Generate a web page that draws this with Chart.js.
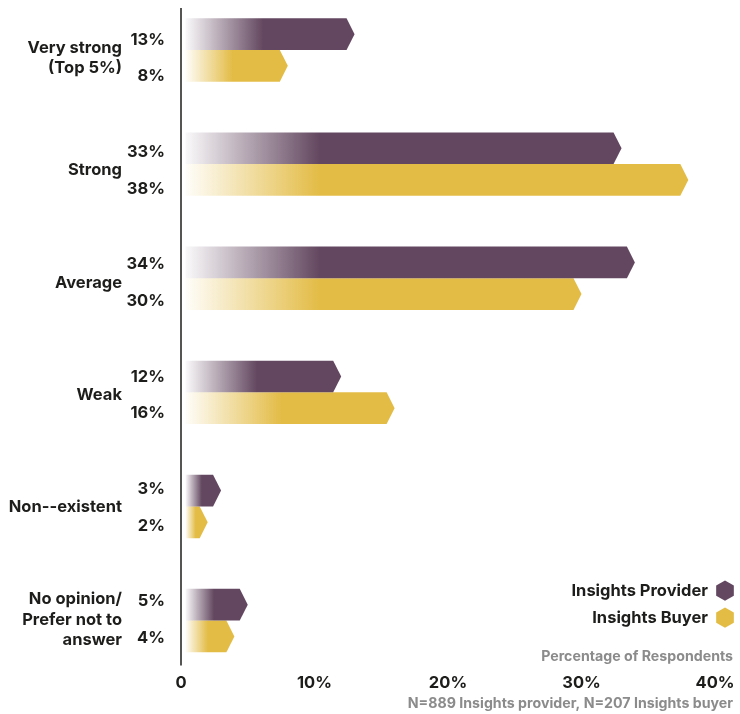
<!DOCTYPE html>
<html>
<head>
<meta charset="utf-8">
<script src="https://cdn.jsdelivr.net/npm/chart.js@4.4.1/dist/chart.umd.min.js"></script>
<style>
    html, body { margin: 0; padding: 0; background: #fff; }
    #wrap { width: 740px; height: 714px; }
</style>
</head>
<body>
<div id="wrap"><canvas id="strengthChart"></canvas></div>
<script>
const categories = [
    ['Very strong', '(Top 5%)'],
    ['Strong'],
    ['Average'],
    ['Weak'],
    ['Non--existent'],
    ['No opinion/', 'Prefer not to', 'answer']
];
const providerValues = [13, 33, 34, 12, 3, 5];
const buyerValues = [8, 38, 30, 16, 2, 4];
const xTicks = [0, 10, 20, 30, 40];
const seriesNames = ['Insights Provider', 'Insights Buyer'];
const axisTitle = 'Percentage of Respondents';
const footnote = 'N=889 Insights provider, N=207 Insights buyer';

const seriesColors = ['#634760', '#e3bc46'];
const FONT = 'Inter, "Noto Sans", sans-serif';
const INK = '#1d1d1b';
const GREY = '#8b8b8b';

function rgba(hex, a) {
    const n = parseInt(hex.slice(1), 16);
    return `rgba(${n >> 16}, ${(n >> 8) & 255}, ${n & 255}, ${a})`;
}

function hexagon(ctx, cx, cy, r) {
    ctx.beginPath();
    for (let i = 0; i < 6; i++) {
        const a = Math.PI / 3 * i - Math.PI / 2;
        const px = cx + r * Math.cos(a);
        const py = cy + r * Math.sin(a);
        if (i === 0) ctx.moveTo(px, py); else ctx.lineTo(px, py);
    }
    ctx.closePath();
}

// bars are drawn as arrows that fade in from the axis
const arrowBars = {
    id: 'arrowBars',
    beforeDatasetDraw(chart, args) {
        const ctx = chart.ctx;
        const color = seriesColors[args.index];
        ctx.save();
        args.meta.data.forEach(bar => {
            const { x, y, base, height } = bar.getProps(['x', 'y', 'base', 'height'], true);
            const left = base + 4;
            const h = height / 2;
            const tip = Math.min(8, (x - left) / 2);
            const fade = Math.min((x - left) * 0.46, 134);
            const grad = ctx.createLinearGradient(left, 0, left + fade, 0);
            grad.addColorStop(0, rgba(color, 0.03));
            grad.addColorStop(1, rgba(color, 1));
            ctx.fillStyle = grad;
            ctx.beginPath();
            ctx.moveTo(left, y - h);
            ctx.lineTo(x - tip, y - h);
            ctx.lineTo(x, y);
            ctx.lineTo(x - tip, y + h);
            ctx.lineTo(left, y + h);
            ctx.closePath();
            ctx.fill();
        });
        ctx.restore();
        return false;
    }
};

// axis line, row labels, value labels, legend and notes
const annotations = {
    id: 'annotations',
    afterDraw(chart) {
        const ctx = chart.ctx;
        const area = chart.chartArea;
        const xs = chart.scales.x;
        const ys = chart.scales.y;
        const x0 = xs.getPixelForValue(0);

        ctx.save();
        ctx.strokeStyle = INK;
        ctx.lineWidth = 1.5;
        ctx.beginPath();
        ctx.moveTo(x0, area.top - 42);
        ctx.lineTo(x0, area.bottom + 45);
        ctx.stroke();

        ctx.fillStyle = INK;
        ctx.textAlign = 'right';
        ctx.textBaseline = 'middle';
        ctx.font = `700 16.5px ${FONT}`;

        categories.forEach((lines, i) => {
            // text rows run on a slightly tighter pitch than the bars
            const cy = ys.getPixelForValue(i) + 8 - 1.8 * i;
            const lh = 20.5;
            lines.forEach((line, k) => {
                ctx.fillText(line, x0 - 59, cy + (k - (lines.length - 1) / 2) * lh);
            });
        });

        [providerValues, buyerValues].forEach((vals, d) => {
            vals.forEach((v, i) => {
                const cy = ys.getPixelForValue(i) + 8 - 1.8 * i;
                const ty = cy + (d === 0 ? -18.3 : 18.3);
                ctx.fillText(v + '%', x0 - 16, ty);
            });
        });

        seriesNames.forEach((name, d) => {
            const ly = area.bottom - 30 + d * 27;
            ctx.fillStyle = INK;
            ctx.fillText(name, area.right - 7, ly);
            ctx.fillStyle = seriesColors[d];
            hexagon(ctx, area.right + 10, ly, 10.2);
            ctx.fill();
        });

        ctx.fillStyle = GREY;
        ctx.font = `700 14.2px ${FONT}`;
        ctx.fillText(axisTitle, chart.width - 7, area.bottom + 36);
        ctx.fillText(footnote, chart.width - 7, area.bottom + 83);
        ctx.restore();
    }
};

new Chart(document.getElementById('strengthChart'), {
    type: 'bar',
    data: {
        labels: categories,
        datasets: [
            { label: seriesNames[0], data: providerValues, backgroundColor: seriesColors[0] },
            { label: seriesNames[1], data: buyerValues, backgroundColor: seriesColors[1] }
        ]
    },
    options: {
        indexAxis: 'y',
        responsive: true,
        maintainAspectRatio: false,
        animation: false,
        datasets: { bar: { categoryPercentage: 0.556, barPercentage: 1 } },
        layout: { padding: { left: 181, right: 25, top: 50, bottom: 20.6 } },
        plugins: { legend: { display: false }, tooltip: { enabled: false } },
        scales: {
            x: {
                min: 0,
                max: 40,
                afterBuildTicks: scale => { scale.ticks = xTicks.map(v => ({ value: v })); },
                ticks: {
                    padding: 0,
                    autoSkip: false,
                    maxRotation: 0,
                    color: INK,
                    font: { family: FONT, size: 16.5, weight: '700' },
                    callback: v => v === 0 ? '0' : v + '%'
                },
                // invisible tick marks push the labels down below the legend notes
                grid: {
                    display: true,
                    drawOnChartArea: false,
                    drawTicks: true,
                    tickLength: 53,
                    color: 'rgba(0,0,0,0)'
                },
                border: { display: false }
            },
            y: { display: false, offset: false }
        }
    },
    plugins: [arrowBars, annotations]
});
</script>
</body>
</html>
